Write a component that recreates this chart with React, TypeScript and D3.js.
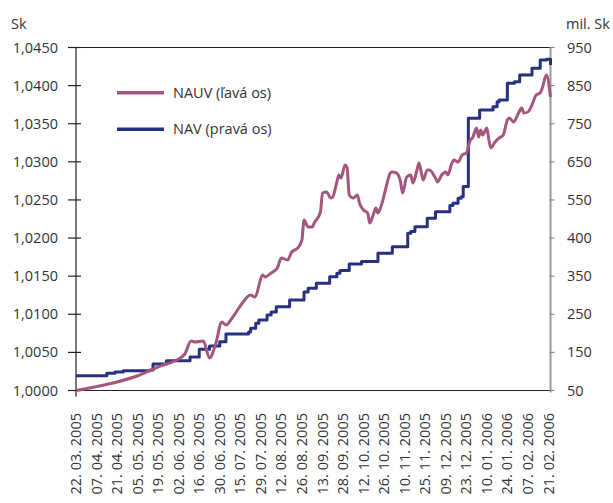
import React from 'react';
import * as d3 from 'd3';

const xLabels = [
  '22. 03. 2005', '07. 04. 2005', '21. 04. 2005', '05. 05. 2005', '19. 05. 2005', '02. 06. 2005',
  '16. 06. 2005', '30. 06. 2005', '15. 07. 2005', '29. 07. 2005', '12. 08. 2005', '26. 08. 2005',
  '13. 09. 2005', '28. 09. 2005', '12. 10. 2005', '26. 10. 2005', '10. 11. 2005', '25. 11. 2005',
  '09. 12. 2005', '23. 12. 2005', '10. 01. 2006', '24. 01. 2006', '07. 02. 2006', '21. 02. 2006',
];

const leftTicks = [1.0, 1.005, 1.01, 1.015, 1.02, 1.025, 1.03, 1.035, 1.04, 1.045];
const leftTickLabels = ['1,0000', '1,0050', '1,0100', '1,0150', '1,0200', '1,0250', '1,0300', '1,0350', '1,0400', '1,0450'];
const rightTicks = [50, 150, 250, 350, 450, 550, 650, 750, 850, 950];
const rightTickLabels = ['50', '150', '250', '350', '400', '550', '650', '750', '850', '950'];

// NAUV (left axis, Sk) – trading day index / value
const nauvDay = [0, 9, 20, 31, 41, 48, 53, 56, 58, 62, 65, 68, 71, 73, 76, 78, 81, 85, 87, 91, 92, 95, 98, 100, 103, 105, 108, 110, 111, 113, 115, 116, 119, 120, 122, 124, 125, 127, 128, 129, 131, 132, 133, 135, 137, 138, 140, 142, 143, 145, 146, 147, 149, 151, 153, 154, 156, 158, 159, 161, 163, 164, 166, 167, 169, 171, 172, 175, 176, 178, 180, 181, 183, 184, 186, 188, 190, 192, 193, 195, 196, 197, 198, 200, 201, 202, 204, 206, 208, 210, 211, 213, 215, 217, 218, 220, 222, 224, 226, 227, 229, 231];
const nauvValue = [1.0, 1.00046, 1.00112, 1.00203, 1.00321, 1.00387, 1.00479, 1.00649, 1.00636, 1.00649, 1.00426, 1.0061, 1.00899, 1.00859, 1.00951, 1.0103, 1.01148, 1.01253, 1.01227, 1.01515, 1.01489, 1.01542, 1.01607, 1.01738, 1.01712, 1.01817, 1.0187, 1.01975, 1.02237, 1.02145, 1.02145, 1.02198, 1.02342, 1.02591, 1.02604, 1.02526, 1.02539, 1.02736, 1.02827, 1.02788, 1.02959, 1.02919, 1.02565, 1.02526, 1.02565, 1.0246, 1.02368, 1.02329, 1.02198, 1.02329, 1.02394, 1.02329, 1.0246, 1.0267, 1.02854, 1.02867, 1.02854, 1.02736, 1.02591, 1.02801, 1.02827, 1.02722, 1.02893, 1.02985, 1.02762, 1.02893, 1.02893, 1.02788, 1.02736, 1.02827, 1.02867, 1.02827, 1.02985, 1.03024, 1.02998, 1.0309, 1.03116, 1.03287, 1.03313, 1.03444, 1.03326, 1.03418, 1.03352, 1.03444, 1.03287, 1.03182, 1.0326, 1.03313, 1.03352, 1.03549, 1.03575, 1.03523, 1.03615, 1.03706, 1.03641, 1.03654, 1.03746, 1.03877, 1.03903, 1.03969, 1.04139, 1.03851];

// NAV (right axis, mil. Sk) – trading day index where a level starts / level
const navDay = [0, 15, 19, 23, 36, 37.5, 44, 55.5, 60, 65, 70, 73, 84, 85, 87.5, 89, 93, 95, 97.5, 104, 111, 113, 117, 123.5, 127, 128.5, 133, 139, 147, 154, 161.5, 163, 165, 171, 175, 182, 183.5, 186, 187.5, 188.5, 191, 196.5, 203, 205, 206, 210, 213.5, 216, 222, 226, 229, 231];
const navValue = [89, 95, 98.5, 102, 103.8, 119.5, 128.2, 137.9, 158.1, 166.8, 178, 198.3, 203.5, 213.2, 226.3, 235, 248, 256, 270, 287.5, 308.5, 318.2, 331.3, 348.6, 357.5, 364.9, 382, 388.5, 410, 427.3, 462.5, 467.2, 479.8, 501.8, 519.2, 535.4, 541.2, 554.3, 558.5, 585.3, 764.2, 786, 794.7, 807.8, 812.3, 856, 860.3, 877.9, 895.4, 917.2, 919, 904.1];

const W = 613;
const H = 503;
const FONT = "'Open Sans', 'Noto Sans', sans-serif";
const TEXT = '#333';
const PINK = '#a5567f';
const NAVY = '#27317f';

export default function App() {
  const left = 76;
  const right = 550.5;
  const top = 47.5;
  const bottom = 390.5;

  const x = d3.scaleLinear().domain([0, 231]).range([left, right]);
  const yL = d3.scaleLinear().domain([1.0, 1.045]).range([bottom, top]);
  const yR = d3.scaleLinear().domain([50, 950]).range([bottom, top]);

  const nauvData = nauvDay.map((d, i) => [d, nauvValue[i]] as [number, number]);
  const navData = navDay.map((d, i) => [d, navValue[i]] as [number, number]);

  const nauvLine = d3
    .line<[number, number]>()
    .x((d) => x(d[0]))
    .y((d) => yL(d[1]))
    .curve(d3.curveMonotoneX)(nauvData) as string;
  const navLine = d3
    .line<[number, number]>()
    .x((d) => x(d[0]))
    .y((d) => yR(d[1]))
    .curve(d3.curveStepAfter)(navData) as string;

  const fs = 14.5;

  return (
    <svg width={W} height={H} style={{ position: 'absolute', left: 0, top: 0, background: '#fff' }} fontFamily={FONT}>
      <rect x={0} y={0} width={W} height={H} fill="#fff" />
      {/* frame */}
      <line x1={left} x2={right} y1={top} y2={top} stroke="#222" strokeWidth={1.2} />
      <line x1={left} x2={right} y1={bottom} y2={bottom} stroke="#222" strokeWidth={1.2} />
      <line x1={left} x2={left} y1={top} y2={bottom + 6} stroke="#222" strokeWidth={1.2} />
      <line x1={right} x2={right} y1={top} y2={bottom + 2} stroke="#999" strokeWidth={2} />

      {/* left ticks */}
      {leftTicks.map((t, i) => (
        <g key={'l' + i}>
          <line x1={left - 8} x2={left + 5} y1={yL(t)} y2={yL(t)} stroke="#222" strokeWidth={1.2} />
          <text x={58} y={yL(t)} dy="0.35em" textAnchor="end" fontSize={fs} fill={TEXT}>
            {leftTickLabels[i]}
          </text>
        </g>
      ))}
      {/* right ticks */}
      {rightTicks.map((t, i) => (
        <g key={'r' + i}>
          <line x1={right - 1} x2={right + 4} y1={yR(t)} y2={yR(t)} stroke="#888" strokeWidth={1.2} />
          <text x={567} y={yR(t)} dy="0.35em" textAnchor="start" fontSize={fs} fill={TEXT}>
            {rightTickLabels[i]}
          </text>
        </g>
      ))}
      <text x={11} y={29} fontSize={fs} fill={TEXT}>Sk</text>
      <text x={566} y={29} fontSize={fs} fill={TEXT}>mil. Sk</text>

      {/* x labels */}
      {xLabels.map((l, i) => {
        const px = x(i * 10);
        return (
          <text
            key={'x' + i}
            transform={`translate(${px},413) rotate(-90)`}
            dy="0.35em"
            textAnchor="end"
            fontSize={fs}
            fill={TEXT}
          >
            {l}
          </text>
        );
      })}

      {/* series */}
      <path d={navLine} fill="none" stroke={NAVY} strokeWidth={3} strokeLinejoin="round" />
      <path d={nauvLine} fill="none" stroke={PINK} strokeWidth={3} strokeLinejoin="round" />

      {/* legend */}
      <line x1={117} x2={164} y1={92.7} y2={92.7} stroke={PINK} strokeWidth={3.5} />
      <text x={173} y={92.7} dy="0.35em" fontSize={fs} fill={TEXT}>NAUV (ľavá os)</text>
      <line x1={117} x2={164} y1={129.3} y2={129.3} stroke={NAVY} strokeWidth={3.5} />
      <text x={173} y={129.3} dy="0.35em" fontSize={fs} fill={TEXT}>NAV (pravá os)</text>
    </svg>
  );
}
